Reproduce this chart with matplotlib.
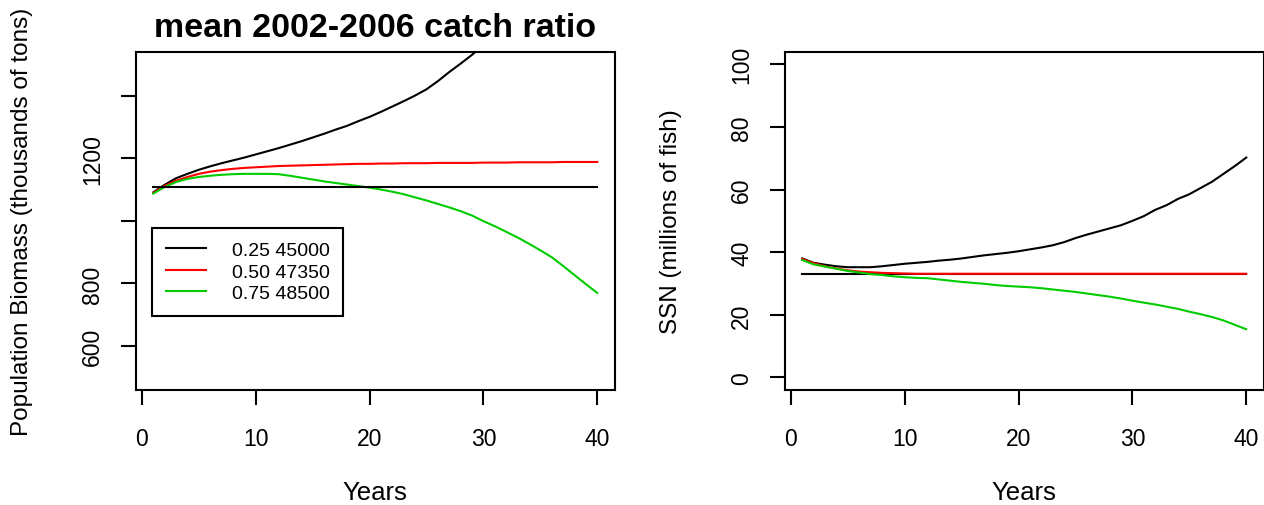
import matplotlib
matplotlib.use("Agg")
import matplotlib.pyplot as plt
import numpy as np

plt.rcParams['font.family'] = ['Liberation Sans', 'DejaVu Sans']

years = list(range(1, 41))

# Left panel: population biomass (thousands of tons)
biomass_025 = [1091, 1115, 1136, 1150, 1163, 1174, 1184, 1193, 1202, 1212,
               1222, 1232, 1243, 1254, 1266, 1278, 1291, 1303, 1318, 1332,
               1348, 1365, 1382, 1400, 1420, 1446, 1475, 1502, 1530, 1562,
               1595, 1630, 1668, 1708, 1750, 1795, 1842, 1892, 1945, 2000]
biomass_050 = [1089, 1112, 1128, 1140, 1150, 1157, 1162, 1166, 1169, 1171,
               1173, 1175, 1176, 1177, 1178, 1179, 1180, 1181, 1182, 1182,
               1183, 1183, 1184, 1184, 1184, 1185, 1185, 1185, 1185, 1186,
               1186, 1186, 1187, 1187, 1187, 1187, 1188, 1188, 1188, 1188]
biomass_075 = [1087, 1108, 1124, 1134, 1140, 1144, 1147, 1149, 1150, 1150,
               1150, 1149, 1144, 1138, 1132, 1126, 1121, 1116, 1111, 1106,
               1100, 1093, 1085, 1075, 1065, 1054, 1043, 1031, 1017, 999,
               983, 965, 947, 927, 906, 884, 856, 827, 798, 770]
biomass_ref = 1109

# Right panel: SSN (millions of fish)
ssn_025 = [38.0, 36.6, 36.0, 35.5, 35.2, 35.2, 35.2, 35.5, 35.9, 36.3,
           36.6, 36.9, 37.3, 37.6, 38.0, 38.5, 39.0, 39.4, 39.8, 40.3,
           40.9, 41.5, 42.2, 43.2, 44.5, 45.6, 46.6, 47.6, 48.6, 50.0,
           51.5, 53.5, 55.0, 57.0, 58.5, 60.5, 62.5, 65.0, 67.5, 70.2]
ssn_050 = [37.8, 36.5, 35.5, 34.8, 34.2, 33.8, 33.6, 33.4, 33.3, 33.2,
           33.1, 33.1, 33.1, 33.1, 33.1, 33.1, 33.1, 33.1, 33.1, 33.1,
           33.1, 33.1, 33.1, 33.1, 33.1, 33.1, 33.1, 33.1, 33.1, 33.1,
           33.1, 33.1, 33.1, 33.1, 33.1, 33.1, 33.1, 33.1, 33.1, 33.1]
ssn_075 = [37.5, 36.1, 35.4, 34.7, 34.0, 33.5, 33.0, 32.7, 32.3, 32.0,
           31.8, 31.7, 31.3, 30.9, 30.5, 30.2, 29.9, 29.5, 29.2, 29.0,
           28.8, 28.5, 28.1, 27.7, 27.3, 26.8, 26.3, 25.8, 25.2, 24.5,
           23.9, 23.3, 22.6, 21.9, 21.0, 20.2, 19.3, 18.2, 16.8, 15.4]
ssn_ref = 33.0

legend_labels = ["0.25 45000", "0.50 47350", "0.75 48500"]
colors = ["black", "#ff0000", "#00cc00"]

xticks = [0, 10, 20, 30, 40]
left_yticks = [600, 800, 1000, 1200, 1400]
left_yticklabels = ["600", "800", "", "1200", ""]
right_yticks = [0, 20, 40, 60, 80, 100]
right_yticklabels = ["0", "20", "40", "60", "80", "100"]

title = "mean 2002-2006 catch ratio"

W, H = 1264, 506
fig = plt.figure(figsize=(W / 100, H / 100), dpi=100)

ax_w = 479.5 / W
ax_h = 338.3 / H
ax_b = 1 - 391 / H
ax1 = fig.add_axes([135.5 / W, ax_b, ax_w, ax_h])
ax2 = fig.add_axes([784.5 / W, ax_b, ax_w, ax_h])

lw = 1.5

def style(ax, yticks, yticklabels, ylim, ylabel):
    ax.set_xlim(-0.56, 41.56)
    ax.set_ylim(*ylim)
    ax.set_xticks(xticks)
    ax.set_xticklabels([str(t) for t in xticks])
    ax.set_yticks(yticks)
    ax.set_yticklabels(yticklabels, rotation=90, va='center')
    for s in ax.spines.values():
        s.set_linewidth(lw)
    ax.tick_params(axis='both', direction='out', length=10.5, width=lw,
                   labelsize=16.5, colors='black')
    ax.tick_params(axis='x', pad=16)
    ax.tick_params(axis='y', pad=12)
    ax.set_xlabel("Years", fontsize=18.5)
    ax.xaxis.label.set_va('center')
    ax.xaxis.set_label_coords(0.5, -102 / 338.3)
    ax.set_ylabel(ylabel, fontsize=17.5)
    ax.yaxis.label.set_va('center')
    ax.yaxis.set_label_coords(-113 / 479.5, 0.5)

# Left panel
ax1.plot(years, biomass_025, color=colors[0], lw=lw, label=legend_labels[0])
ax1.plot(years, biomass_050, color=colors[1], lw=lw, label=legend_labels[1])
ax1.plot(years, biomass_075, color=colors[2], lw=lw, label=legend_labels[2])
ax1.plot([years[0], years[-1]], [biomass_ref, biomass_ref], color='black', lw=lw)
style(ax1, left_yticks, left_yticklabels, (460, 1540),
      "Population Biomass (thousands of tons)")
ax1.set_title(title, fontsize=24.5, fontweight='bold', pad=11)
leg = ax1.legend(loc='upper left', bbox_to_anchor=(16.5 / 479.5, (391 - 229) / 338.3),
                 borderaxespad=0, fancybox=False, framealpha=1, edgecolor='black',
                 fontsize=14, handlelength=2.1, handletextpad=1.3,
                 labelspacing=0.2, borderpad=0.7)
leg.get_frame().set_linewidth(lw)

# Right panel
ax2.plot([years[0], years[-1]], [ssn_ref, ssn_ref], color='black', lw=lw)
ax2.plot(years, ssn_025, color=colors[0], lw=lw)
ax2.plot(years, ssn_050, color=colors[1], lw=lw)
ax2.plot(years, ssn_075, color=colors[2], lw=lw)
style(ax2, right_yticks, right_yticklabels, (-4, 104), "SSN (millions of fish)")

fig.savefig("out.png", dpi=100)
